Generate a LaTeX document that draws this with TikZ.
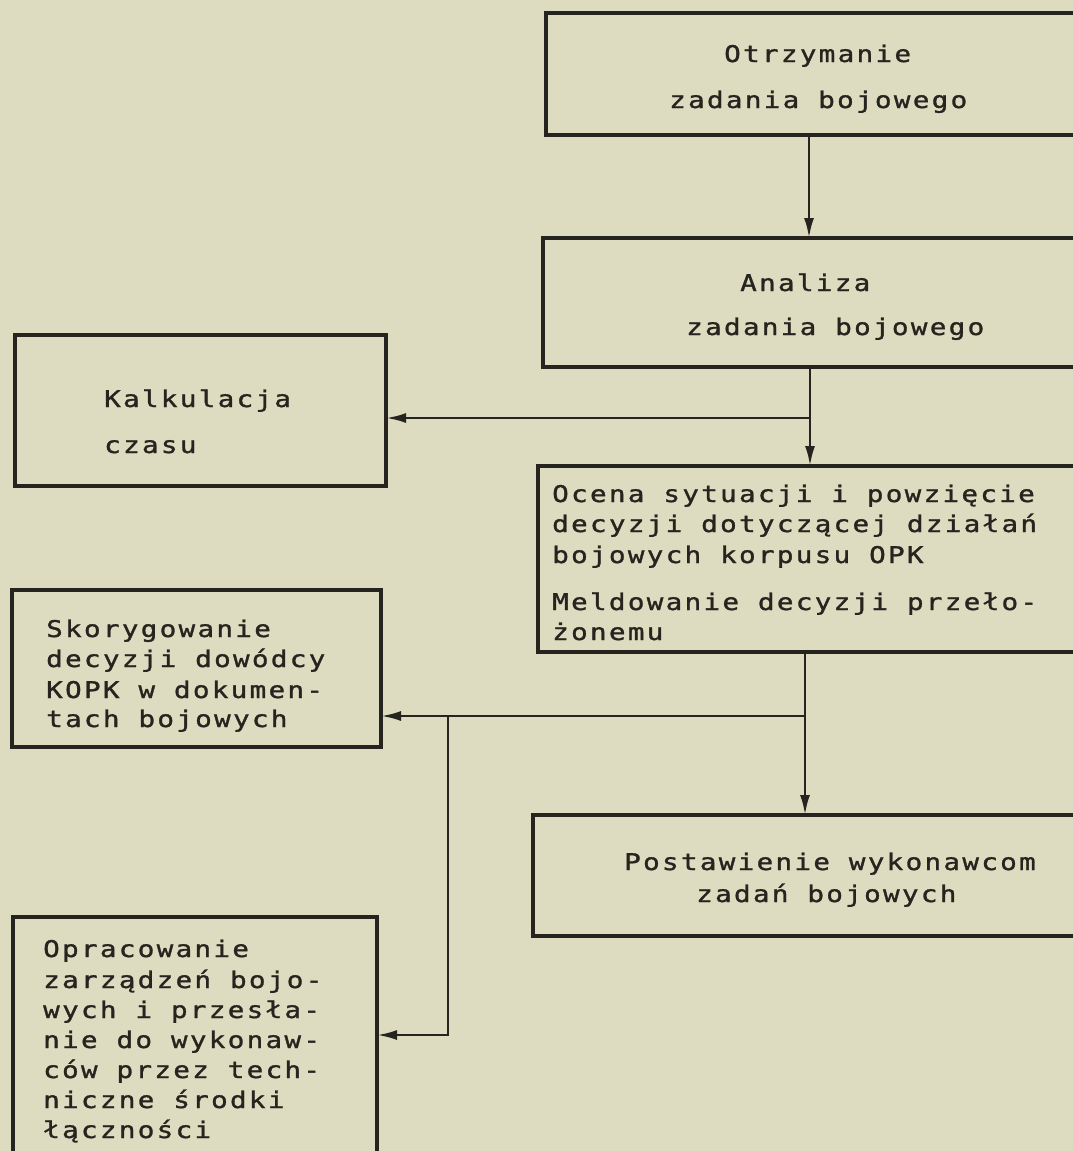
\documentclass[tikz,border=0pt]{standalone}
\usepackage{fontspec}
\usetikzlibrary{arrows.meta}
\newfontfamily\tw[FakeStretch=1.2,LetterSpace=10,FakeBold=1.3]{DejaVu Sans Mono}
\definecolor{paper}{RGB}{221,220,192}
\definecolor{ink}{RGB}{38,36,30}
\newcommand\tline[4]{\node[tx,anchor=base #1] (#2) at (#3) {#4};}
\begin{document}
\begin{tikzpicture}[x=1pt,y=-1pt,
  box/.style={draw=ink,line width=3.2pt,rectangle,inner sep=0pt,outer sep=0pt,anchor=north west},
  tx/.style={inner sep=0pt,text=ink,font=\tw\fontsize{23pt}{27pt}\selectfont},
  arr/.style={draw=ink,line width=2.6pt,-{Latex[length=20pt,width=10pt]}}]
\fill[paper] (0,0) rectangle (1073,1151);
\useasboundingbox (0,0) rectangle (1073,1151);
\clip (0,0) rectangle (1073,1151);
% boxes
\node[box,minimum width=560pt,minimum height=122pt] (b1) at (546,13) {};
\node[box,minimum width=560pt,minimum height=129pt] (b2) at (543,238) {};
\node[box,minimum width=371pt,minimum height=151pt] (b3) at (15,335) {};
\node[box,minimum width=570pt,minimum height=186pt] (b4) at (538,466) {};
\node[box,minimum width=369pt,minimum height=157pt] (b5) at (12,590) {};
\node[box,minimum width=570pt,minimum height=121pt] (b6) at (533,815) {};
\node[box,minimum width=364pt,minimum height=260pt] (b7) at (13,917) {};
% texts
\tline{west}{t1a}{724,62}{Otrzymanie}
\tline{west}{t1b}{669,108}{zadania bojowego}
\tline{west}{t2a}{740,291}{Analiza}
\tline{west}{t2b}{686,335}{zadania bojowego}
\tline{west}{t3a}{104,407}{Kalkulacja}
\tline{west}{t3b}{104,453}{czasu}
\tline{west}{t4a}{552,502}{Ocena sytuacji i powzięcie}
\tline{west}{t4b}{552,532}{decyzji dotyczącej działań}
\tline{west}{t4c}{552,563}{bojowych korpusu OPK}
\tline{west}{t4d}{552,610}{Meldowanie decyzji przeło-}
\tline{west}{t4e}{552,640}{żonemu}
\tline{west}{t5a}{46,637}{Skorygowanie}
\tline{west}{t5b}{46,667}{decyzji dowódcy}
\tline{west}{t5c}{46,698}{KOPK w dokumen-}
\tline{west}{t5d}{46,727}{tach bojowych}
\tline{west}{t6a}{624,870}{Postawienie wykonawcom}
\tline{west}{t6b}{696,902}{zadań bojowych}
\tline{west}{t7a}{43,957}{Opracowanie}
\tline{west}{t7b}{43,988}{zarządzeń bojo-}
\tline{west}{t7c}{43,1018}{wych i przesła-}
\tline{west}{t7d}{43,1048}{nie do wykonaw-}
\tline{west}{t7e}{43,1078}{ców przez tech-}
\tline{west}{t7f}{43,1108}{niczne środki}
\tline{west}{t7g}{43,1138}{łączności}
% junctions
\coordinate (j2) at (810,418);
\coordinate (j3) at (805,716);
\coordinate (j4) at (448,716);
% connectors
\draw[arr] (b1.south -| 809,0) -- (b2.north -| 809,0);
\draw[arr] (b2.south -| 810,0) -- (b4.north -| 810,0);
\draw[arr] (j2) -- (j2 -| b3.east);
\draw[arr] (b4.south -| 805,0) -- (b6.north -| 805,0);
\draw[arr] (j3) -- (j3 -| b5.east);
\draw[arr] (j4) |- (b7.east |- 0,1035);
\end{tikzpicture}
\end{document}
